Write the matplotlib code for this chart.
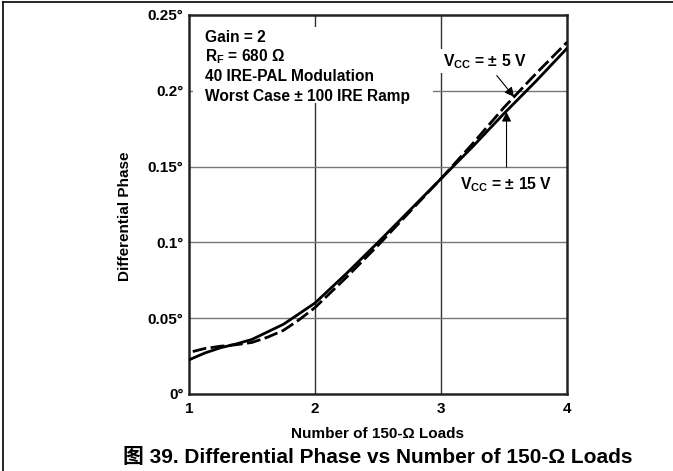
import matplotlib
matplotlib.use("Agg")
import matplotlib.pyplot as plt
from matplotlib.lines import Line2D
from matplotlib.patches import Rectangle

plt.rcParams['font.family'] = ['Liberation Sans', 'Noto Sans CJK SC', 'DejaVu Sans']
plt.rcParams['font.weight'] = 'bold'
plt.rcParams['mathtext.fontset'] = 'custom'
plt.rcParams['mathtext.rm'] = 'Liberation Sans:bold'
plt.rcParams['mathtext.bf'] = 'Liberation Sans:bold'

# Differential phase (degrees) vs number of 150-ohm loads
loads_15v = [1.0, 1.125, 1.25, 1.375, 1.5, 1.625, 1.75, 1.875, 2.0,
             2.25, 2.5, 2.75, 3.0, 3.25, 3.5, 3.75, 4.0]
phase_15v = [0.0225, 0.027, 0.0305, 0.033, 0.036, 0.041, 0.046, 0.053, 0.060,
             0.0795, 0.100, 0.121, 0.142, 0.163, 0.185, 0.206, 0.228]

loads_5v = [1.03, 1.125, 1.25, 1.375, 1.5, 1.625, 1.75, 1.875, 2.0,
            2.25, 2.5, 2.75, 3.0, 3.25, 3.5, 3.75, 4.0]
phase_5v = [0.028, 0.030, 0.0315, 0.0325, 0.034, 0.0375, 0.042, 0.049, 0.057,
            0.077, 0.098, 0.120, 0.142, 0.165, 0.189, 0.211, 0.232]

x_ticks = [1, 2, 3, 4]
y_ticks = [0, 0.05, 0.1, 0.15, 0.2, 0.25]
y_tick_labels = ['0°', '0.05°', '0.1°', '0.15°', '0.2°', '0.25°']

conditions = ['Gain = 2',
              r'$\mathbf{R_F}$ = 680 Ω',
              '40 IRE-PAL Modulation',
              'Worst Case ± 100 IRE Ramp']

fig = plt.figure(figsize=(6.73, 4.71), dpi=100)
ax = fig.add_axes([0.2808, 0.1635, 0.5617, 0.8047])

ax.set_xlim(1, 4)
ax.set_ylim(0, 0.25)
ax.set_xticks(x_ticks)
ax.set_xticklabels([str(t) for t in x_ticks])
ax.set_yticks(y_ticks)
ax.set_yticklabels(y_tick_labels)
ax.tick_params(axis='both', length=0, labelsize=11)
ax.tick_params(axis='x', pad=6)
ax.tick_params(axis='y', pad=4)

for v in x_ticks[1:-1]:
    ax.axvline(v, color='#333333', lw=1.0, zorder=1)
for v in y_ticks[1:-1]:
    ax.axhline(v, color='#777777', lw=1.0, zorder=1)

for s in ax.spines.values():
    s.set_linewidth(1.8)
    s.set_color('#222222')

ax.plot(loads_15v, phase_15v, color='black', lw=2.0, zorder=4,
        solid_joinstyle='round')
ax.plot(loads_5v, phase_5v, color='black', lw=2.0, zorder=4,
        dashes=(5, 1.6))

ax.set_xlabel('Number of 150-Ω Loads', fontsize=11, fontweight='bold')
ax.xaxis.set_label_coords(0.5, -0.086)
ax.set_ylabel('Differential Phase', fontsize=11, fontweight='bold')
ax.yaxis.set_label_coords(-0.151, 0.47)

# white panel behind the test conditions
ax.add_patch(Rectangle((0.0106, 0.768), 0.635, 0.200, transform=ax.transAxes,
                       facecolor='white', edgecolor='none', zorder=2))
for i, line in enumerate(conditions):
    ax.text(0.042, 0.930 - i * 0.0525, line, transform=ax.transAxes,
            fontsize=11.2, fontweight='bold', ha='left', va='baseline', zorder=3)

box = dict(facecolor='white', edgecolor='none', pad=2)
ax.annotate(r'$\mathbf{V_{CC}}$ = ± 5 V', xy=(3.58, 0.196), xytext=(3.35, 0.2195),
            fontsize=11.3, fontweight='bold', ha='center', va='center', bbox=box, zorder=5,
            arrowprops=dict(arrowstyle='-|>', color='black', lw=0.8,
                            mutation_scale=14, shrinkA=2, shrinkB=0))
ax.annotate(r'$\mathbf{V_{CC}}$ = ± 15 V', xy=(3.52, 0.186), xytext=(3.52, 0.138),
            fontsize=11.3, fontweight='bold', ha='center', va='center', bbox=box, zorder=5,
            arrowprops=dict(arrowstyle='-|>', color='black', lw=0.8,
                            mutation_scale=14, shrinkA=4, shrinkB=0))

fig.text(0.561, 0.029, '图 39. Differential Phase vs Number of 150-Ω Loads',
         fontsize=15, fontweight='bold', ha='center', va='center')

# page frame on the left and top edges
fig.add_artist(Line2D([0.004, 0.004], [0, 0.996], transform=fig.transFigure,
                      color='black', lw=1.2))
fig.add_artist(Line2D([0.004, 1.0], [0.996, 0.996], transform=fig.transFigure,
                      color='black', lw=1.2))

fig.savefig('out.png', dpi=100)
